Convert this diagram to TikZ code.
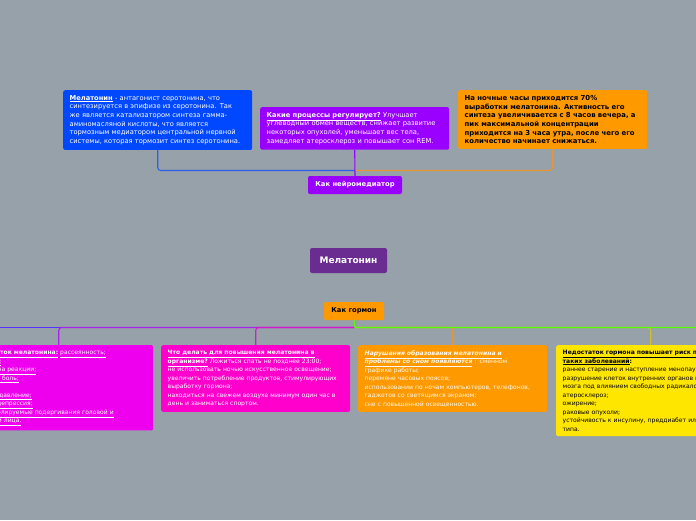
\documentclass[tikz,border=0pt]{standalone}
\usepackage{fontspec}
\setmainfont{DejaVu Sans}
\usetikzlibrary{positioning}
\definecolor{bgGray}{RGB}{151,161,169}
\definecolor{cBlue}{RGB}{0,72,255}
\definecolor{cPurple}{RGB}{153,0,255}
\definecolor{cOrange}{RGB}{255,153,0}
\definecolor{cMain}{RGB}{106,44,145}
\definecolor{cMagenta}{RGB}{238,0,238}
\definecolor{cPink}{RGB}{255,0,204}
\definecolor{cYellow}{RGB}{255,230,0}
\definecolor{lBlue}{RGB}{45,95,235}
\definecolor{lOrange}{RGB}{228,152,52}
\definecolor{lLeft}{RGB}{85,50,255}
\definecolor{lViolet}{RGB}{165,35,235}
\definecolor{lPink}{RGB}{215,25,205}
\definecolor{lGreen}{RGB}{85,255,0}
\definecolor{lYellow}{RGB}{210,190,40}
\definecolor{tLight}{RGB}{255,248,235}

\begin{document}
\begin{tikzpicture}[x=1pt,y=-1pt,
  card/.style={rectangle,rounded corners=2pt,anchor=north west,font=\fontsize{6.05}{8.5}\selectfont,inner xsep=6.5pt,inner ysep=5pt,text width=176pt,align=left},
  topcard/.style={card,font=\fontsize{6.7}{8.7}\selectfont},
  tag/.style={rectangle,rounded corners=2pt,font=\fontsize{6.8}{8}\selectfont\bfseries,inner sep=0pt,minimum height=18pt},
  lnk/.style={line width=1.1pt,rounded corners=3pt}
]
  \useasboundingbox (0,0) rectangle (696,520);
  \clip (0,0) rectangle (696,520);
  \fill[bgGray] (0,0) rectangle (696,520);

  % верхняя ветвь
  \node[topcard,fill=cBlue,text=white](melbox) at (63,90) {\underline{\textbf{Мелатонин}} - антагонист серотонина, что\\синтезируется в эпифизе из серотонина. Так\\же является катализатором синтеза гамма-\\аминомасляной кислоты, что является\\тормозным медиатором центральной нервной\\системы, которая тормозит синтез серотонина.};
  \node[topcard,fill=cPurple,text=white](procbox) at (260,107) {\underline{\textbf{Какие процессы регулирует?}} Улучшает\\углеводный обмен веществ, снижает развитие\\некоторых опухолей, уменьшает вес тела,\\замедляет атеросклероз и повышает сон REM.};
  \node[topcard,fill=cOrange,text=black,font=\fontsize{6.9}{8.7}\selectfont\bfseries](nightbox) at (458,90) {На ночные часы приходится 70\%\\выработки мелатонина. Активность его\\синтеза увеличивается с 8 часов вечера, а\\пик максимальной концентрации\\приходится на 3 часа утра, после чего его\\количество начинает снижаться.};
  \node[tag,fill=cPurple,text=white,minimum width=94pt](neuro) at (355,185) {Как нейромедиатор};

  % центр
  \node[tag,fill=cMain,text=white,minimum width=77pt,minimum height=25pt,font=\fontsize{9}{10}\selectfont\bfseries](root) at (348.5,260.5) {Мелатонин};

  % нижняя ветвь
  \node[tag,fill=cOrange,text=black,minimum width=60pt](hormone) at (354,311) {Как гормон};
  \node[card,fill=cMagenta,text=white](lackbox) at (-36,345) {\underline{\textbf{Недостаток мелатонина:}} \underline{рассеянность;}\\\underline{слабость;}\\\underline{замедлена реакции;}\\\underline{головная боль;}\\вялость;\\\underline{высокое давление;}\\\underline{апатия, депрессия;}\\\underline{неконтролируемые подергивания головой и}\\\underline{мышцами лица.}};
  \node[card,fill=cPink,text=white](raisebox) at (161,345) {\underline{\textbf{Что делать для повышения мелатонина в}}\\\underline{\textbf{организме?}} Ложиться спать не позднее 23:00;\\не использовать ночью искусственное освещение;\\увеличить потребление продуктов, стимулирующих\\выработку гормона;\\находиться на свежем воздухе минимум один час в\\день и заниматься спортом.};
  \node[card,fill=cOrange,text=tLight](sleepbox) at (358,345) {\underline{\textbf{\textit{Нарушения образования мелатонина и}}}\\\underline{\textbf{\textit{проблемы со сном появляются}}} : сменном\\графике работы;\\перемене часовых поясов;\\использовании по ночам компьютеров, телефонов,\\гаджетов со светящимся экраном;\\сне с повышенной освещенностью.};
  \node[card,fill=cYellow,text=black](riskbox) at (556,345) {\underline{\textbf{Недостаток гормона повышает риск появления}}\\\underline{\textbf{таких заболеваний}}\textbf{:}\\раннее старение и наступление менопаузы;\\разрушение клеток внутренних органов и головного\\мозга под влиянием свободных радикалов;\\атеросклероз;\\ожирение;\\раковые опухоли;\\устойчивость к инсулину, преддиабет или диабет 2\\типа.};

  \coordinate (hubtop) at (355,170.5);
  \coordinate (hubbot) at (355,327.5);
  \coordinate (leftend) at (-10,327.5);
  \coordinate (rightend) at (706,327.5);

  % связи
  \draw[lnk,lBlue](melbox.south) |- (hubtop);
  \draw[lnk,lOrange](nightbox.south) |- (hubtop);
  \draw[lnk,cPurple](procbox.south) -- (neuro.north);
  \draw[lnk,lLeft](hubbot) -- (leftend);
  \draw[lnk,lViolet](hubbot) -| (lackbox.north);
  \draw[lnk,lPink](hubbot) -| (raisebox.north);
  \draw[lnk,lYellow](hubbot) -| (riskbox.north);
  \draw[lnk,lOrange](hubbot) -| (sleepbox.north);
  \draw[lnk,lGreen,rounded corners=0pt](hormone.south) -- (hubbot) -- (rightend);
\end{tikzpicture}
\end{document}
